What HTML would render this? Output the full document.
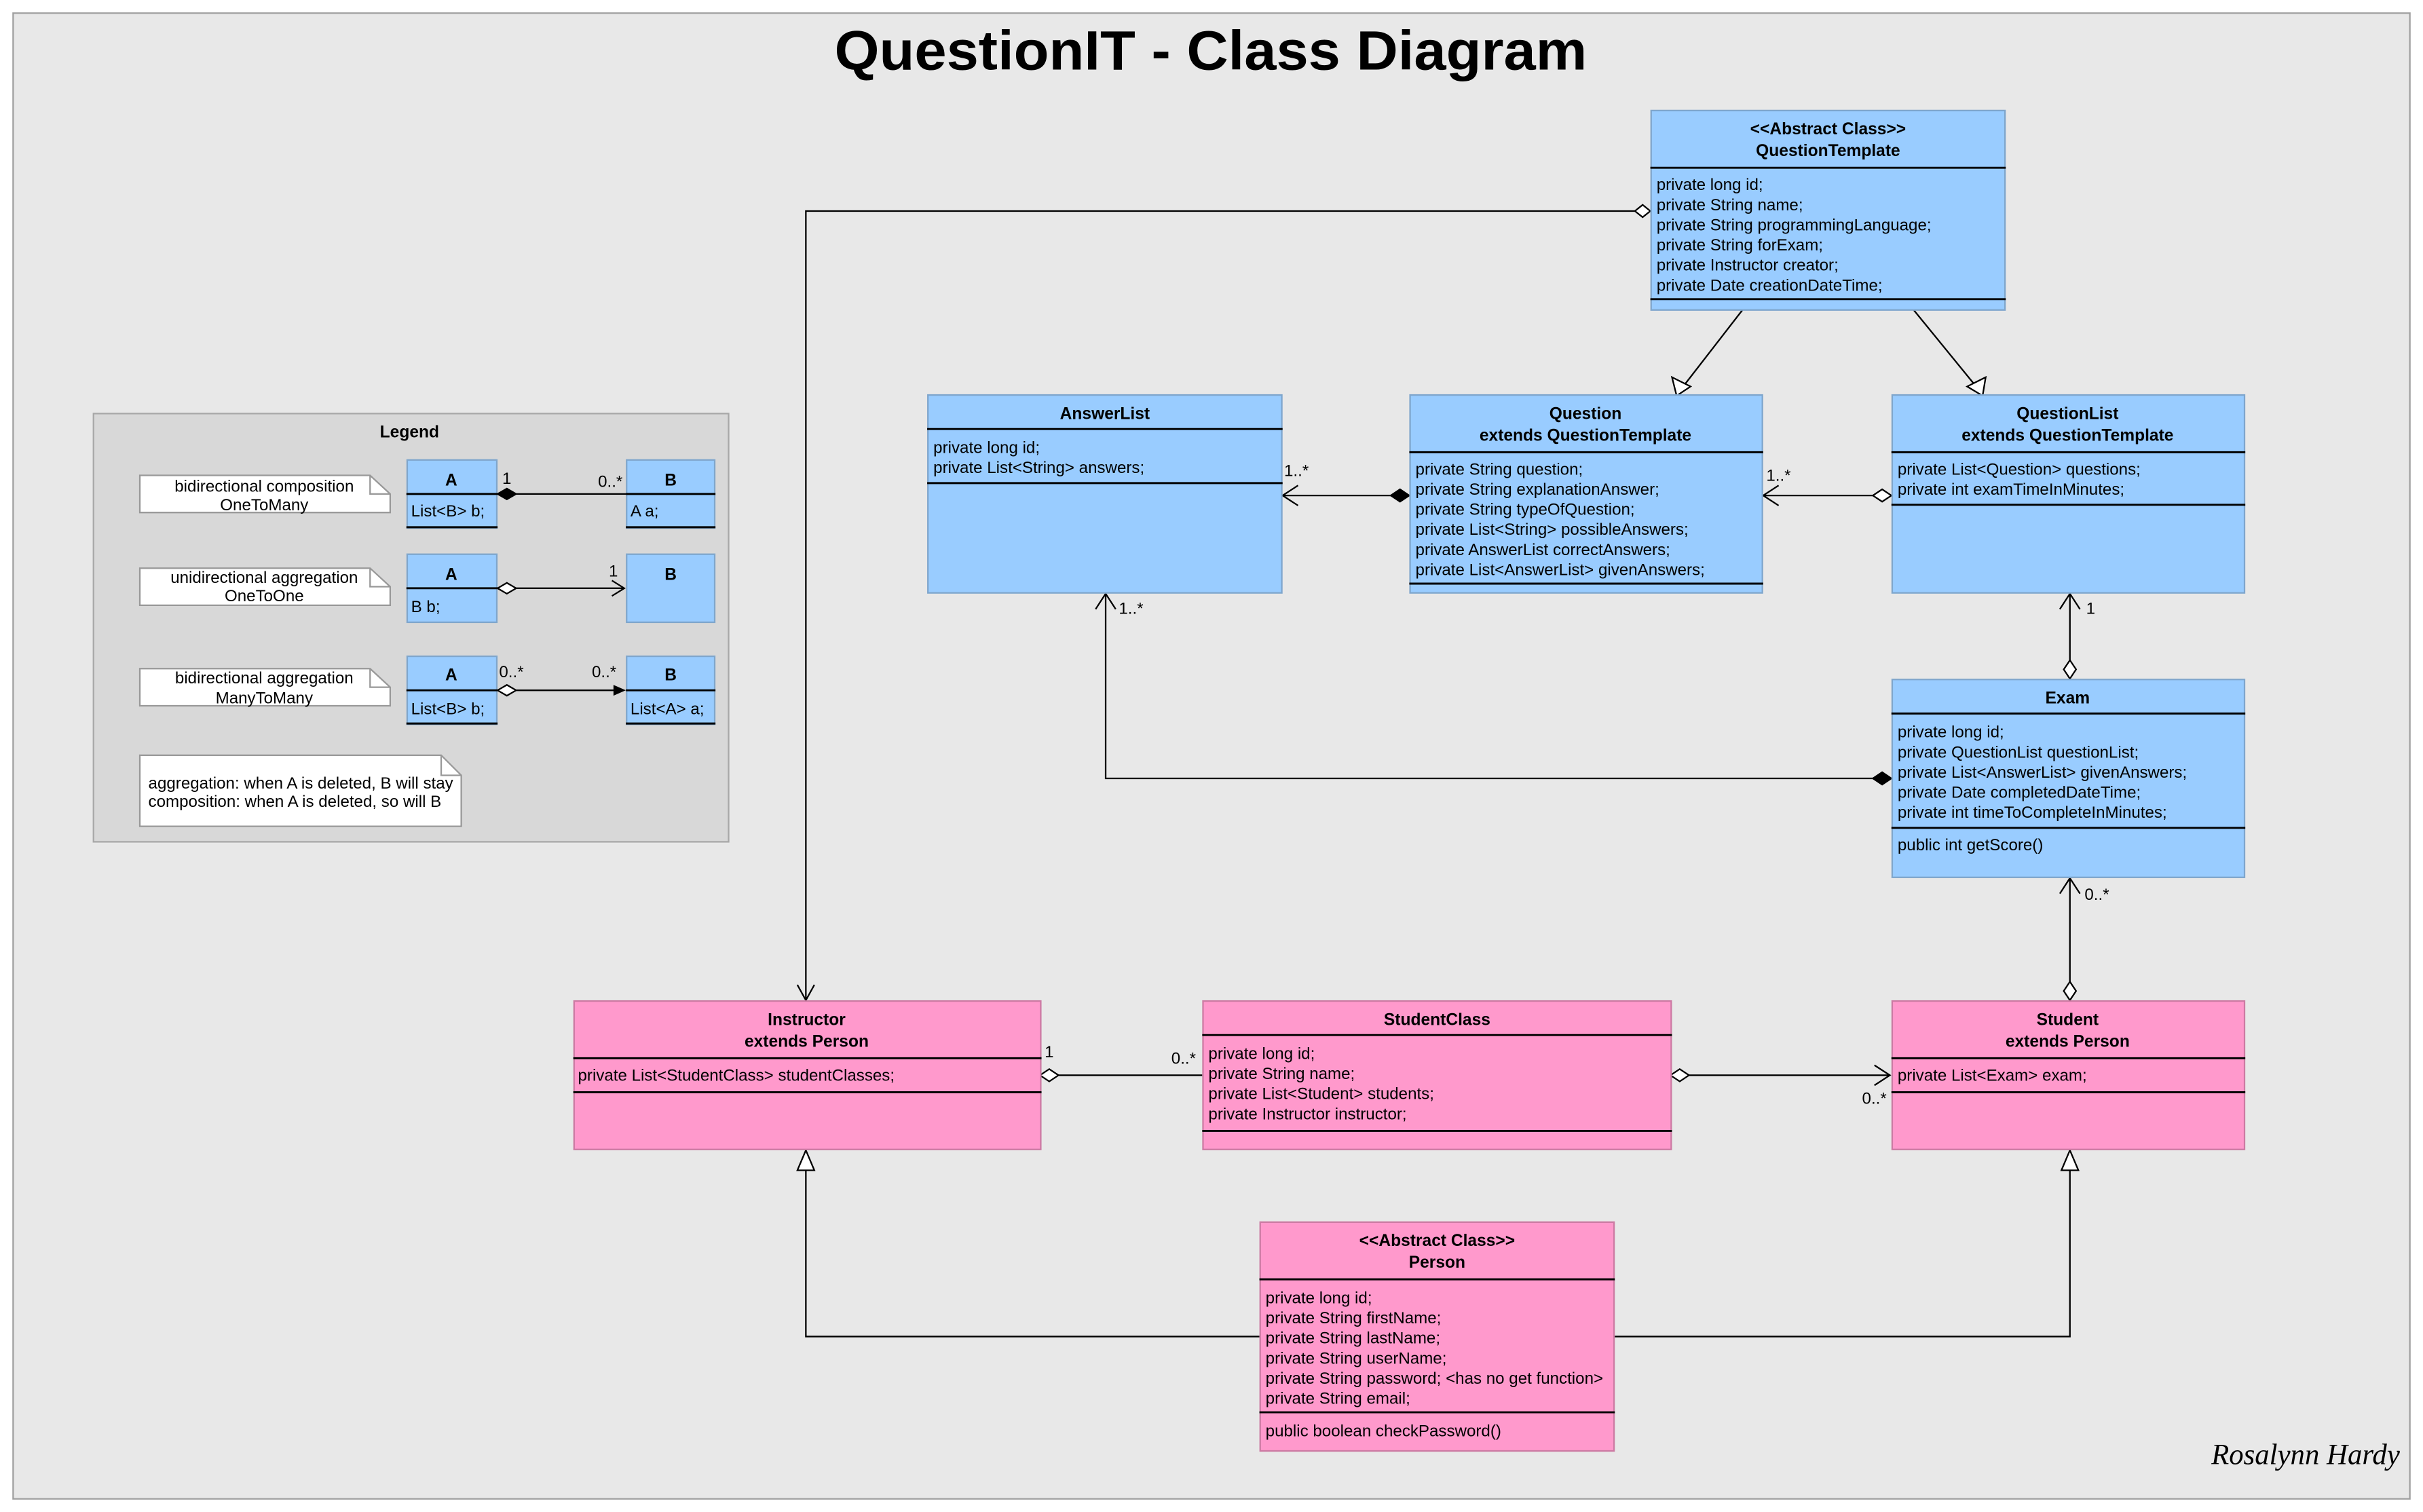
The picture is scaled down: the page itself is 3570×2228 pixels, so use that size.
<!DOCTYPE html>
<html><head><meta charset="utf-8"><style>
html,body{margin:0;padding:0;background:#fff;}
svg{display:block;}
text{font-family:"Liberation Sans",Arial,sans-serif;fill:#000;}
.t{font-size:10.6px;}
.b{font-size:10.8px;font-weight:bold;}
</style></head><body>
<svg width="3570" height="2228" viewBox="0 0 1568 978" preserveAspectRatio="none" xmlns="http://www.w3.org/2000/svg">
<rect x="0" y="0" width="1568" height="978" fill="#fff"/>
<rect x="8.5" y="8.5" width="1551" height="961" fill="#e8e8e8" stroke="#a0a0a0" stroke-width="1"/>
<text x="540" y="45" textLength="487" lengthAdjust="spacingAndGlyphs" style="font-size:36px;font-weight:bold">QuestionIT - Class Diagram</text>

<!-- Legend -->
<rect x="60.5" y="267.5" width="411" height="277" fill="#d8d8d8" stroke="#a8a8a8"/>
<text x="265" y="283" text-anchor="middle" class="b">Legend</text>
<g stroke="#999" fill="#fff">
<path d="M90.5,307.5 H239.5 L252.5,319.5 V331.5 H90.5 Z"/>
<path d="M90.5,367.5 H239.5 L252.5,379.5 V391.5 H90.5 Z"/>
<path d="M90.5,432.5 H239.5 L252.5,444.5 V456.5 H90.5 Z"/>
<path d="M90.5,488.5 H285.5 L298.5,501.5 V534.5 H90.5 Z"/>
</g>
<g stroke="#999" fill="none"><path d="M239.5,307.5 V319.5 H252.5 M239.5,367.5 V379.5 H252.5 M239.5,432.5 V444.5 H252.5 M285.5,488.5 V501.5 H298.5"/></g>
<text x="171" y="318" text-anchor="middle" class="t">bidirectional composition</text>
<text x="171" y="330" text-anchor="middle" class="t">OneToMany</text>
<text x="171" y="377" text-anchor="middle" class="t">unidirectional aggregation</text>
<text x="171" y="389" text-anchor="middle" class="t">OneToOne</text>
<text x="171" y="442" text-anchor="middle" class="t">bidirectional aggregation</text>
<text x="171" y="455" text-anchor="middle" class="t">ManyToMany</text>
<text x="96" y="510" class="t">aggregation: when A is deleted, B will stay</text>
<text x="96" y="522" class="t">composition: when A is deleted, so will B</text>
<g fill="#99ccff" stroke="#7fa6cc">
<rect x="263.5" y="297.5" width="58" height="44"/><rect x="405.5" y="297.5" width="57" height="44"/>
<rect x="263.5" y="358.5" width="58" height="44"/><rect x="405.5" y="358.5" width="57" height="44"/>
<rect x="263.5" y="424.5" width="58" height="44"/><rect x="405.5" y="424.5" width="57" height="44"/>
</g>
<g stroke="#000" stroke-width="1.3">
<path d="M263,319.5H322 M405,319.5H463 M263,341H322 M405,341H463 M263,380.5H322 M263,446.5H322 M405,446.5H463 M263,468H322 M405,468H463"/>
</g>
<g text-anchor="middle">
<text x="292" y="314" class="b">A</text><text x="434" y="314" class="b">B</text>
<text x="292" y="375" class="b">A</text><text x="434" y="375" class="b">B</text>
<text x="292" y="440" class="b">A</text><text x="434" y="440" class="b">B</text>
</g>
<text x="266" y="334" class="t">List&lt;B&gt; b;</text><text x="408" y="334" class="t">A a;</text>
<text x="266" y="396" class="t">B b;</text>
<text x="266" y="462" class="t">List&lt;B&gt; b;</text><text x="408" y="462" class="t">List&lt;A&gt; a;</text>
<g stroke="#000" fill="none" stroke-width="1">
<path d="M334,319.5H405"/>
<path d="M334,380.5H404 M396,375.5 L404,380.5 L396,385.5"/>
<path d="M334,446.5H398"/>
</g>
<path d="M322,319.5 L328,316 L334,319.5 L328,323 Z" fill="#000" stroke="#000"/>
<path d="M322,380.5 L328,377 L334,380.5 L328,384 Z" fill="#fff" stroke="#000"/>
<path d="M322,446.5 L328,443 L334,446.5 L328,450 Z" fill="#fff" stroke="#000"/>
<path d="M397,443 L405,446.5 L397,450 Z" fill="#000"/>
<text x="325" y="313" class="t">1</text><text x="387" y="315" class="t">0..*</text>
<text x="394" y="373" class="t">1</text>
<text x="323" y="438" class="t">0..*</text><text x="383" y="438" class="t">0..*</text>

<!-- Connectors -->
<g stroke="#000" fill="none" stroke-width="1">
<path d="M1058,136.5 H521.5 V647"/>
<path d="M516,637 L521.5,647 L527,637"/>
<path d="M1128,200 L1090,249"/>
<path d="M1238,200 L1278,249"/>
<path d="M900,320.5 H830 M840,314 L830,320.5 L840,327"/>
<path d="M1212,320.5 H1141 M1151,314 L1141,320.5 L1151,327"/>
<path d="M1339.5,427 V384 M1333,394 L1339.5,384 L1346,394"/>
<path d="M1212,503.5 H715.5 V384 M709,394 L715.5,384 L722,394"/>
<path d="M1339.5,635 V568 M1333,578 L1339.5,568 L1346,578"/>
<path d="M685,695.5 H778"/>
<path d="M1093,695.5 H1223 M1213,689 L1223,695.5 L1213,702"/>
<path d="M815,864.5 H521.5 V757"/>
<path d="M1044,864.5 H1339.5 V757"/>
</g>
<g fill="#fff" stroke="#000">
<path d="M1068,136.5 L1063,132.5 L1058,136.5 L1063,140.5 Z"/>
<path d="M1085,256 L1082,244 L1094,250 Z"/>
<path d="M1283,256 L1273,250 L1285,244 Z"/>
<path d="M1224,320.5 L1218,316.5 L1212,320.5 L1218,324.5 Z"/>
<path d="M1339.5,439 L1335.5,433 L1339.5,427 L1343.5,433 Z"/>
<path d="M1339.5,647 L1335.5,641 L1339.5,635 L1343.5,641 Z"/>
<path d="M673,695.5 L679,691.5 L685,695.5 L679,699.5 Z"/>
<path d="M1081,695.5 L1087,691.5 L1093,695.5 L1087,699.5 Z"/>
<path d="M521.5,744 L516,757 L527,757 Z"/>
<path d="M1339.5,744 L1334,757 L1345,757 Z"/>
</g>
<g fill="#000" stroke="#000">
<path d="M912,320.5 L906,316.5 L900,320.5 L906,324.5 Z"/>
<path d="M1224,503.5 L1218,499.5 L1212,503.5 L1218,507.5 Z"/>
</g>
<text x="831" y="308" class="t">1..*</text>
<text x="1143" y="311" class="t">1..*</text>
<text x="1350" y="397" class="t">1</text>
<text x="724" y="397" class="t">1..*</text>
<text x="1349" y="582" class="t">0..*</text>
<text x="676" y="684" class="t">1</text>
<text x="758" y="688" class="t">0..*</text>
<text x="1205" y="714" class="t">0..*</text>

<!-- Classes -->
<g fill="#99ccff" stroke="#7fa6cc">
<rect x="1068.5" y="71.5" width="229" height="129"/>
<rect x="600.5" y="255.5" width="229" height="128"/>
<rect x="912.5" y="255.5" width="228" height="128"/>
<rect x="1224.5" y="255.5" width="228" height="128"/>
<rect x="1224.5" y="439.5" width="228" height="128"/>
</g>
<g fill="#ff99cc" stroke="#cc7aa3">
<rect x="371.5" y="647.5" width="302" height="96"/>
<rect x="778.5" y="647.5" width="303" height="96"/>
<rect x="1224.5" y="647.5" width="228" height="96"/>
<rect x="815.5" y="790.5" width="229" height="148"/>
</g>
<g stroke="#000" stroke-width="1.3">
<path d="M1068,108.5H1298 M1068,193.5H1298"/>
<path d="M600,277.5H830 M600,312.5H830"/>
<path d="M912,292.5H1141 M912,377.5H1141"/>
<path d="M1224,292.5H1453 M1224,326.5H1453"/>
<path d="M1224,461.5H1453 M1224,535.5H1453"/>
<path d="M371,684.5H674 M371,706.5H674"/>
<path d="M778,669.5H1082 M778,731.5H1082"/>
<path d="M1224,684.5H1453 M1224,706.5H1453"/>
<path d="M815,827.5H1045 M815,913.5H1045"/>
</g>
<g text-anchor="middle">
<text x="1183" y="87" class="b">&lt;&lt;Abstract Class&gt;&gt;</text>
<text x="1183" y="101" class="b">QuestionTemplate</text>
<text x="715" y="271" class="b">AnswerList</text>
<text x="1026" y="271" class="b">Question</text>
<text x="1026" y="285" class="b">extends QuestionTemplate</text>
<text x="1338" y="271" class="b">QuestionList</text>
<text x="1338" y="285" class="b">extends QuestionTemplate</text>
<text x="1338" y="455" class="b">Exam</text>
<text x="522" y="663" class="b">Instructor</text>
<text x="522" y="677" class="b">extends Person</text>
<text x="930" y="663" class="b">StudentClass</text>
<text x="1338" y="663" class="b">Student</text>
<text x="1338" y="677" class="b">extends Person</text>
<text x="930" y="806" class="b">&lt;&lt;Abstract Class&gt;&gt;</text>
<text x="930" y="820" class="b">Person</text>
</g>
<g class="t">
<text x="1072" y="123">private long id;</text>
<text x="1072" y="136">private String name;</text>
<text x="1072" y="149">private String programmingLanguage;</text>
<text x="1072" y="162">private String forExam;</text>
<text x="1072" y="175">private Instructor creator;</text>
<text x="1072" y="188">private Date creationDateTime;</text>
<text x="604" y="293">private long id;</text>
<text x="604" y="306">private List&lt;String&gt; answers;</text>
<text x="916" y="307">private String question;</text>
<text x="916" y="320">private String explanationAnswer;</text>
<text x="916" y="333">private String typeOfQuestion;</text>
<text x="916" y="346">private List&lt;String&gt; possibleAnswers;</text>
<text x="916" y="359">private AnswerList correctAnswers;</text>
<text x="916" y="372">private List&lt;AnswerList&gt; givenAnswers;</text>
<text x="1228" y="307">private List&lt;Question&gt; questions;</text>
<text x="1228" y="320">private int examTimeInMinutes;</text>
<text x="1228" y="477">private long id;</text>
<text x="1228" y="490">private QuestionList questionList;</text>
<text x="1228" y="503">private List&lt;AnswerList&gt; givenAnswers;</text>
<text x="1228" y="516">private Date completedDateTime;</text>
<text x="1228" y="529">private int timeToCompleteInMinutes;</text>
<text x="1228" y="550">public int getScore()</text>
<text x="374" y="699">private List&lt;StudentClass&gt; studentClasses;</text>
<text x="782" y="685">private long id;</text>
<text x="782" y="698">private String name;</text>
<text x="782" y="711">private List&lt;Student&gt; students;</text>
<text x="782" y="724">private Instructor instructor;</text>
<text x="1228" y="699">private List&lt;Exam&gt; exam;</text>
<text x="819" y="843">private long id;</text>
<text x="819" y="856">private String firstName;</text>
<text x="819" y="869">private String lastName;</text>
<text x="819" y="882">private String userName;</text>
<text x="819" y="895">private String password; &lt;has no get function&gt;</text>
<text x="819" y="908">private String email;</text>
<text x="819" y="929">public boolean checkPassword()</text>
</g>
<text x="1431" y="947" textLength="122" lengthAdjust="spacingAndGlyphs" style="font-family:'Liberation Serif',serif;font-style:italic;font-size:19px">Rosalynn Hardy</text>
</svg>
</body></html>
